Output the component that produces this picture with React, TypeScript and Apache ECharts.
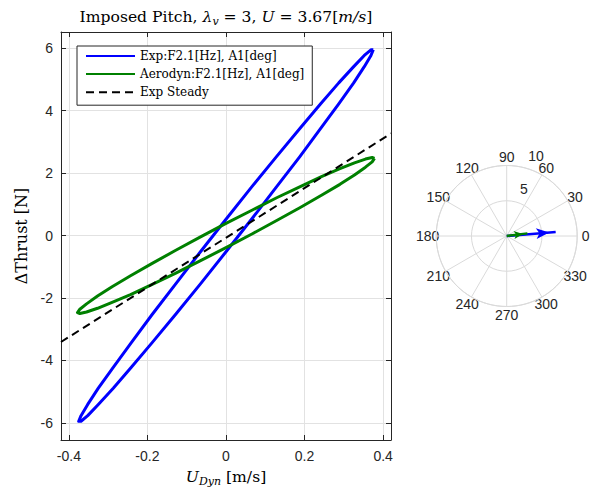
import React, { useEffect, useRef } from 'react';
import * as echarts from 'echarts';

// Experimental loop (blue)
const blueX = [0.375, 0.369, 0.352, 0.325, 0.287, 0.241, 0.188, 0.128, 0.065, 0, -0.065, -0.128, -0.188, -0.241, -0.287, -0.325, -0.352, -0.369, -0.375, -0.369, -0.352, -0.325, -0.287, -0.241, -0.188, -0.128, -0.065, 0, 0.065, 0.128, 0.188, 0.241, 0.287, 0.325, 0.352, 0.369, 0.375];
const blueY = [5.95, 5.95, 5.77, 5.41, 4.89, 4.22, 3.43, 2.52, 1.55, 0.52, -0.52, -1.55, -2.53, -3.43, -4.22, -4.89, -5.41, -5.77, -5.95, -5.95, -5.77, -5.41, -4.89, -4.22, -3.43, -2.52, -1.55, -0.52, 0.52, 1.55, 2.53, 3.43, 4.22, 4.89, 5.41, 5.77, 5.95];
// Aerodyn loop (green)
const greenX = [0.378, 0.372, 0.355, 0.327, 0.29, 0.243, 0.189, 0.129, 0.066, 0, -0.066, -0.129, -0.189, -0.243, -0.29, -0.327, -0.355, -0.372, -0.378, -0.372, -0.355, -0.327, -0.29, -0.243, -0.189, -0.129, -0.066, 0, 0.066, 0.129, 0.189, 0.243, 0.29, 0.327, 0.355, 0.372, 0.378];
const greenY = [2.47, 2.5, 2.45, 2.33, 2.14, 1.89, 1.57, 1.21, 0.81, 0.39, -0.05, -0.48, -0.9, -1.29, -1.64, -1.94, -2.19, -2.36, -2.47, -2.5, -2.45, -2.33, -2.14, -1.89, -1.57, -1.21, -0.81, -0.39, 0.05, 0.48, 0.9, 1.29, 1.64, 1.94, 2.19, 2.36, 2.47];
// Steady line
const steadyX = [-0.42, 0.42];
const steadyY = [-3.41, 3.27];

const legendNames = ['Exp:F2.1[Hz], A1[deg]', 'Aerodyn:F2.1[Hz], A1[deg]', 'Exp Steady'];
const seriesColors = ['#0000ff', '#008000', '#000000'];

// Polar (compass) arrows: [radius, angle deg]
const arrowR = [6.97, 2.96];
const arrowTheta = [4.7, 7.2];
const radialTicks = [5, 10];
const angleTicks = [0, 30, 60, 90, 120, 150, 180, 210, 240, 270, 300, 330];

const xRange = [-0.42, 0.42];
const yRange = [-6.55, 6.52];

const POLAR_CX = 506.7;
const POLAR_CY = 236;
const POLAR_R = 70.5;
const RMAX = 10;

const axisColor = '#262626';
const gridColor = '#e2e2e2';
const polarGrid = '#dadada';
const sans = 'Liberation Sans, Arial, sans-serif';
const serif = 'DejaVu Serif, serif';

const zip = (xs: number[], ys: number[]) => xs.map((x, i) => [x, ys[i]]);

export default function App() {
  const ref = useRef<HTMLDivElement>(null);
  useEffect(() => {
    if (!ref.current) return;
    const chart = echarts.init(ref.current, undefined, { renderer: 'svg' });

    const baseAxis = {
      type: 'value' as const,
      axisLine: { show: true, onZero: false, lineStyle: { color: axisColor, width: 1 } },
      axisTick: { show: true, inside: true, length: 5, lineStyle: { color: axisColor } },
    };

    const arrowSeries = arrowR.map((r, i) => {
      const th = arrowTheta[i];
      const size = i === 0 ? [8, 13] : [6, 9];
      const half = size[1] / 2;
      const rad = (th * Math.PI) / 180;
      return {
        name: 'arrow' + i,
        type: 'line',
        coordinateSystem: 'polar',
        polarIndex: 0,
        z: 5,
        lineStyle: { color: seriesColors[i], width: 2.5 },
        itemStyle: { color: seriesColors[i] },
        data: [
          { value: [0, 0], symbol: 'none' },
          {
            value: [r, th],
            symbol: 'arrow',
            symbolSize: size,
            symbolRotate: th - 90,
            symbolOffset: [-half * Math.cos(rad), half * Math.sin(rad)],
          },
        ],
      };
    });

    const radialLabelGraphics = radialTicks.map((t) => {
      const d = (t / RMAX) * POLAR_R + 15;
      const a = (70 * Math.PI) / 180;
      return {
        type: 'text',
        x: POLAR_CX + d * Math.cos(a),
        y: POLAR_CY - d * Math.sin(a),
        style: { text: String(t), font: `14px ${sans}`, fill: axisColor, align: 'center', verticalAlign: 'middle' },
      };
    });

    const angleLabelGraphics = angleTicks.map((t) => {
      const d = POLAR_R + 8.5;
      const a = (t * Math.PI) / 180;
      return {
        type: 'text',
        x: POLAR_CX + d * Math.cos(a),
        y: POLAR_CY - d * Math.sin(a),
        style: { text: String(t), font: `14px ${sans}`, fill: axisColor, align: 'center', verticalAlign: 'middle' },
      };
    });

    const rich = {
      n: { fontFamily: serif, fontSize: 15.6, color: '#000', lineHeight: 20 },
      i: { fontFamily: serif, fontSize: 15.6, fontStyle: 'italic', color: '#000', lineHeight: 20 },
      s: { fontFamily: serif, fontSize: 11, fontStyle: 'italic', color: '#000', lineHeight: 10, verticalAlign: 'bottom' },
    };

    chart.setOption({
      animation: false,
      backgroundColor: '#ffffff',
      grid: { left: 61, right: 200, top: 32, bottom: 51, containLabel: false, outerBoundsMode: 'none' },
      legend: {
        data: legendNames,
        orient: 'vertical',
        left: 77,
        top: 46,
        padding: [4, 8, 7, 8],
        itemGap: 6.1,
        itemWidth: 49,
        itemHeight: 14,
        borderColor: axisColor,
        borderWidth: 1,
        backgroundColor: '#ffffff',
        itemStyle: { opacity: 0 },
        lineStyle: { width: 2 },
        textStyle: { fontFamily: serif, fontSize: 12, color: '#000' },
      },
      xAxis: [
        {
          ...baseAxis,
          position: 'bottom',
          min: xRange[0],
          max: xRange[1],
          splitNumber: 4,
          axisLabel: {
            showMinLabel: false,
            showMaxLabel: false,
            margin: 9,
            color: axisColor,
            fontFamily: sans,
            fontSize: 14,
            formatter: (v: number) => String(Math.round(v * 10) / 10),
          },
          splitLine: { show: true, lineStyle: { color: gridColor, width: 1 } },
          name: '{i|U}{s|Dyn}{n| [m/s]}',
          nameLocation: 'middle',
          nameGap: 27,
          nameTextStyle: { rich },
        },
        {
          ...baseAxis,
          position: 'top',
          min: xRange[0],
          max: xRange[1],
          splitNumber: 4,
          axisLabel: { show: false },
          splitLine: { show: false },
          name: '{n|Imposed Pitch, }{i|λ}{s|v}{n| = 3, }{i|U}{n| = 3.67[}{i|m/s}{n|]}',
          nameLocation: 'middle',
          nameGap: 5,
          nameTextStyle: { rich },
        },
      ],
      yAxis: [
        {
          ...baseAxis,
          position: 'left',
          min: yRange[0],
          max: yRange[1],
          splitNumber: 6,
          axisLabel: {
            showMinLabel: false,
            showMaxLabel: false,
            margin: 8,
            color: axisColor,
            fontFamily: sans,
            fontSize: 14,
            formatter: (v: number) => (Math.abs(v - Math.round(v)) < 1e-6 ? String(Math.round(v)) : ''),
          },
          splitLine: { show: true, lineStyle: { color: gridColor, width: 1 } },
          name: 'ΔThrust [N]',
          nameLocation: 'middle',
          nameGap: 29,
          nameRotate: 90,
          nameTextStyle: { fontFamily: serif, fontSize: 16, color: '#000' },
        },
        {
          ...baseAxis,
          position: 'right',
          min: yRange[0],
          max: yRange[1],
          splitNumber: 6,
          axisLabel: { show: false },
          splitLine: { show: false },
        },
      ],
      polar: { center: [POLAR_CX, POLAR_CY], radius: POLAR_R },
      angleAxis: {
        type: 'value',
        min: 0,
        max: 360,
        interval: 30,
        startAngle: 0,
        clockwise: false,
        axisLine: { show: true, lineStyle: { color: polarGrid, width: 1 } },
        axisTick: { show: false },
        splitLine: { show: true, lineStyle: { color: polarGrid, width: 1 } },
        axisLabel: { show: false },
      },
      radiusAxis: {
        type: 'value',
        min: 0,
        max: RMAX,
        interval: 5,
        axisLine: { show: false },
        axisTick: { show: false },
        axisLabel: { show: false },
        splitLine: { show: true, lineStyle: { color: polarGrid, width: 1 } },
      },
      graphic: [...angleLabelGraphics, ...radialLabelGraphics],
      series: [
        {
          name: legendNames[0],
          type: 'line',
          xAxisIndex: 0,
          yAxisIndex: 0,
          symbol: 'none',
          showSymbol: false,
          lineStyle: { color: seriesColors[0], width: 3, join: 'round' },
          itemStyle: { color: seriesColors[0] },
          data: zip(blueX, blueY),
          z: 3,
        },
        {
          name: legendNames[1],
          type: 'line',
          xAxisIndex: 0,
          yAxisIndex: 0,
          symbol: 'none',
          showSymbol: false,
          lineStyle: { color: seriesColors[1], width: 3, join: 'round' },
          itemStyle: { color: seriesColors[1] },
          data: zip(greenX, greenY),
          z: 4,
        },
        {
          name: legendNames[2],
          type: 'line',
          xAxisIndex: 0,
          yAxisIndex: 0,
          symbol: 'none',
          showSymbol: false,
          lineStyle: { color: seriesColors[2], width: 2, type: [8, 5] },
          itemStyle: { color: seriesColors[2] },
          data: zip(steadyX, steadyY),
          z: 5,
        },
        ...arrowSeries,
      ],
    } as any);

    return () => chart.dispose();
  }, []);

  return <div ref={ref} style={{ position: 'absolute', left: 0, top: 0, width: 591, height: 491 }} />;
}
